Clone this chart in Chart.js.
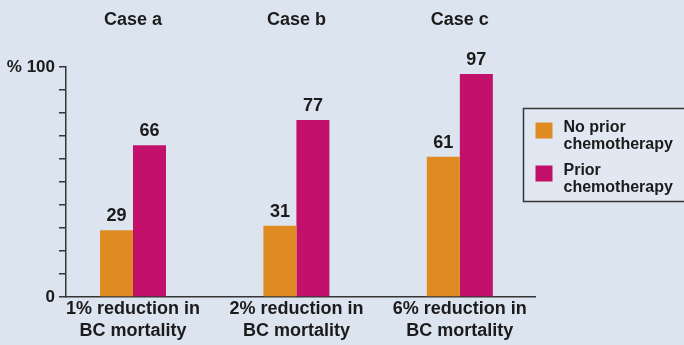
<!DOCTYPE html>
<html>
<head>
<meta charset="utf-8">
<script src="https://cdn.jsdelivr.net/npm/chart.js@4.4.1/dist/chart.umd.min.js"></script>
<style>
  html, body { margin: 0; padding: 0; background: #dce4ef; }
  canvas { display: block; }
</style>
</head>
<body>
<canvas id="chart" width="684" height="345"></canvas>
<script>
// Chart data
const caseTitles = ['Case a', 'Case b', 'Case c'];
const outcomeLabels = [
  ['1% reduction in', 'BC mortality'],
  ['2% reduction in', 'BC mortality'],
  ['6% reduction in', 'BC mortality']
];
const seriesNames = [['No prior', 'chemotherapy'], ['Prior', 'chemotherapy']];
const noPriorChemo = [29, 31, 61];
const priorChemo = [66, 77, 97];
const yLabelledTicks = [0, 100];
const yUnit = '%';

// Styling
const ORANGE = '#e08b22';
const MAGENTA = '#c3106b';
const INK = '#1b1b1b';
const AXIS = '#353535';
const FONT = '"Liberation Sans", Arial, Helvetica, sans-serif';

const toPoints = values => values.map((v, i) => ({ x: i, y: v }));
const caseTicks = scale => { scale.ticks = caseTitles.map((_, i) => ({ value: i })); };

// Numbers printed above each bar
const valueLabels = {
  id: 'valueLabels',
  afterDatasetsDraw(chart) {
    const ctx = chart.ctx;
    ctx.save();
    ctx.font = 'bold 18px ' + FONT;
    ctx.fillStyle = INK;
    ctx.textAlign = 'center';
    ctx.textBaseline = 'alphabetic';
    chart.data.datasets.forEach((ds, di) => {
      chart.getDatasetMeta(di).data.forEach((bar, i) => {
        ctx.fillText(String(ds.data[i].y), bar.x, bar.y - 9);
      });
    });
    ctx.restore();
  }
};

// Boxed legend at the right with two-line entries
const boxLegend = {
  id: 'boxLegend',
  afterDraw(chart, args, opts) {
    const ctx = chart.ctx;
    ctx.save();
    ctx.fillStyle = opts.fill;
    ctx.fillRect(opts.x, opts.y, opts.w, opts.h);
    ctx.strokeStyle = AXIS;
    ctx.lineWidth = 1.5;
    ctx.strokeRect(opts.x, opts.y, opts.w, opts.h);
    ctx.font = 'bold 16px ' + FONT;
    ctx.textAlign = 'left';
    ctx.textBaseline = 'alphabetic';
    chart.data.datasets.forEach((ds, di) => {
      const top = opts.y + opts.firstRow + di * opts.rowGap;
      ctx.fillStyle = ds.backgroundColor;
      ctx.fillRect(opts.x + 12, top, 17, 16);
      ctx.fillStyle = INK;
      ds.legendLines.forEach((line, li) => {
        ctx.fillText(line, opts.x + 40, top + 9 + li * 17.5);
      });
    });
    ctx.restore();
  }
};

new Chart(document.getElementById('chart'), {
  type: 'bar',
  data: {
    datasets: [
      { label: seriesNames[0].join(' '), legendLines: seriesNames[0], data: toPoints(noPriorChemo), backgroundColor: ORANGE },
      { label: seriesNames[1].join(' '), legendLines: seriesNames[1], data: toPoints(priorChemo), backgroundColor: MAGENTA }
    ]
  },
  options: {
    responsive: false,
    animation: false,
    devicePixelRatio: 1,
    layout: { padding: { left: 0, right: 149, top: 0, bottom: 0 } },
    datasets: { bar: { categoryPercentage: 0.404, barPercentage: 1.0, borderWidth: 0 } },
    scales: {
      x: {
        type: 'linear',
        position: 'bottom',
        min: -0.41,
        max: 2.46,
        offset: false,
        afterBuildTicks: caseTicks,
        afterFit: s => { s.height = 48; },
        grid: { display: false, drawTicks: false },
        border: { display: true, color: AXIS, width: 1.5 },
        ticks: {
          padding: 2,
          color: INK,
          autoSkip: false,
          font: { family: FONT, size: 18, weight: 'bold', lineHeight: 1.17 },
          maxRotation: 0,
          callback: v => outcomeLabels[v]
        }
      },
      xTop: {
        type: 'linear',
        position: 'top',
        min: -0.41,
        max: 2.46,
        offset: false,
        afterBuildTicks: caseTicks,
        afterFit: s => { s.height = 67; },
        grid: { display: false, drawTicks: false },
        border: { display: false },
        ticks: {
          padding: 36,
          color: INK,
          autoSkip: false,
          font: { family: FONT, size: 18, weight: 'bold' },
          maxRotation: 0,
          callback: v => caseTitles[v]
        }
      },
      y: {
        min: 0,
        max: 100,
        afterFit: s => { s.width = 66; },
        grid: { display: true, drawOnChartArea: false, drawTicks: true, tickLength: 7, color: AXIS, lineWidth: 1.5 },
        border: { display: true, color: AXIS, width: 1.5 },
        ticks: {
          stepSize: 10,
          autoSkip: false,
          padding: 4,
          color: INK,
          font: { family: FONT, size: 17, weight: 'bold' },
          callback: v => yLabelledTicks.includes(v) ? (v === 100 ? yUnit + ' ' + v : String(v)) : ''
        }
      }
    },
    plugins: {
      legend: { display: false },
      tooltip: { enabled: false },
      boxLegend: { x: 523.5, y: 108.5, w: 200, h: 93, fill: '#e1e8f2', firstRow: 14, rowGap: 43 }
    }
  },
  plugins: [valueLabels, boxLegend]
});
</script>
</body>
</html>
